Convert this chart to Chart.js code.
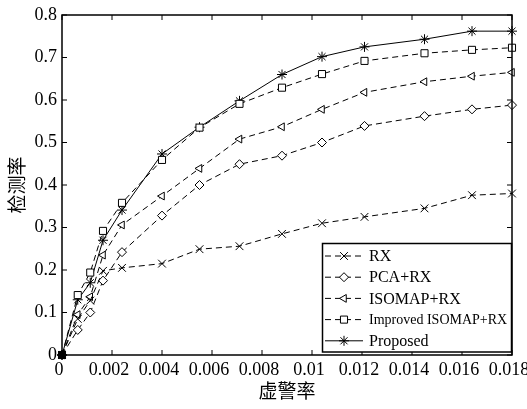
<!DOCTYPE html>
<html>
<head>
<meta charset="utf-8">
<script src="https://cdn.jsdelivr.net/npm/chart.js@4.4.0/dist/chart.umd.min.js"></script>
<style>
  html, body { margin: 0; padding: 0; background: #fff; }
  #wrap { width: 527px; height: 409px; }
</style>
</head>
<body>
<div id="wrap"><canvas id="rocChart" width="527" height="409"></canvas></div>
<script>
// false alarm rate (x) shared by all curves
const falseAlarm = [0, 0.00063, 0.00113, 0.00164, 0.0024, 0.004, 0.0055, 0.0071, 0.0088, 0.0104, 0.0121, 0.0145, 0.0164, 0.018];

const rxVals       = [0, 0.085, 0.128, 0.198, 0.205, 0.215, 0.249, 0.256, 0.285, 0.310, 0.325, 0.345, 0.376, 0.380];
const pcaVals      = [0, 0.059, 0.100, 0.175, 0.242, 0.328, 0.400, 0.449, 0.469, 0.500, 0.539, 0.562, 0.578, 0.588];
const isomapVals   = [0, 0.095, 0.137, 0.235, 0.306, 0.374, 0.439, 0.508, 0.537, 0.578, 0.618, 0.643, 0.656, 0.665];
const improvedVals = [0, 0.141, 0.194, 0.292, 0.358, 0.459, 0.535, 0.591, 0.629, 0.661, 0.692, 0.710, 0.718, 0.723];
const proposedVals = [0, 0.130, 0.170, 0.270, 0.341, 0.473, 0.536, 0.598, 0.660, 0.702, 0.725, 0.743, 0.762, 0.762];

const seriesNames = ["RX", "PCA+RX", "ISOMAP+RX", "Improved ISOMAP+RX", "Proposed"];
const xTickLabels = ["0", "0.002", "0.004", "0.006", "0.008", "0.01", "0.012", "0.014", "0.016", "0.018"];
const yTickLabels = ["0", "0.1", "0.2", "0.3", "0.4", "0.5", "0.6", "0.7", "0.8"];

const serif = "'Liberation Serif', 'DejaVu Serif', serif";
const cjk = "'Noto Sans CJK SC', sans-serif";

function toPoints(vals) {
  return vals.map((v, i) => ({ x: falseAlarm[i], y: v }));
}

function makeSet(label, vals, style, radius, rotation, dashed) {
  return {
    label: label,
    data: toPoints(vals),
    borderColor: '#000',
    borderWidth: 1,
    borderDash: dashed ? [6, 4] : [],
    pointStyle: style,
    pointRadius: radius,
    pointRotation: rotation,
    pointBorderColor: '#000',
    pointBorderWidth: 1,
    pointBackgroundColor: ctx => ctx.dataIndex === 0 ? '#000' : '#fff',
    tension: 0,
    fill: false,
    clip: 6
  };
}

const datasets = [
  makeSet(seriesNames[0], rxVals, 'crossRot', 5.5, 0, true),
  makeSet(seriesNames[1], pcaVals, 'rectRot', 4.5, 0, true),
  makeSet(seriesNames[2], isomapVals, 'triangle', 4.5, -90, true),
  makeSet(seriesNames[3], improvedVals, 'rect', 5, 0, true),
  makeSet(seriesNames[4], proposedVals, 'star', 5, 0, false)
];

// frame with inward ticks on all four sides
const framePlugin = {
  id: 'frame',
  afterDraw(chart) {
    const { ctx, chartArea: a, scales } = chart;
    ctx.save();
    ctx.strokeStyle = '#000';
    ctx.lineWidth = 1.5;
    ctx.strokeRect(a.left, a.top, a.right - a.left, a.bottom - a.top);
    ctx.lineWidth = 1;
    ctx.beginPath();
    scales.x.ticks.forEach(t => {
      const px = scales.x.getPixelForValue(t.value);
      ctx.moveTo(px, a.bottom); ctx.lineTo(px, a.bottom - 5);
      ctx.moveTo(px, a.top); ctx.lineTo(px, a.top + 5);
    });
    scales.y.ticks.forEach(t => {
      const py = scales.y.getPixelForValue(t.value);
      ctx.moveTo(a.left, py); ctx.lineTo(a.left + 5, py);
      ctx.moveTo(a.right, py); ctx.lineTo(a.right - 5, py);
    });
    ctx.stroke();
    ctx.restore();
  }
};

// legend box in the lower right corner of the plot
const legendPlugin = {
  id: 'boxLegend',
  afterDraw(chart) {
    const { ctx, chartArea: a } = chart;
    const boxL = 322.5, boxR = a.right - 0.5, boxT = 243.5, boxB = a.bottom - 3;
    ctx.save();
    ctx.fillStyle = '#fff';
    ctx.fillRect(boxL, boxT, boxR - boxL, boxB - boxT);
    ctx.strokeStyle = '#000';
    ctx.lineWidth = 1.5;
    ctx.strokeRect(boxL, boxT, boxR - boxL, boxB - boxT);

    chart.data.datasets.forEach((ds, i) => {
      const y = 256 + i * 21.2;
      ctx.strokeStyle = '#000';
      ctx.lineWidth = 1;
      ctx.setLineDash(ds.borderDash);
      ctx.beginPath();
      ctx.moveTo(325, y);
      ctx.lineTo(363, y);
      ctx.stroke();
      ctx.setLineDash([]);
      ctx.fillStyle = '#fff';
      Chart.helpers.drawPoint(ctx, {
        pointStyle: ds.pointStyle,
        radius: ds.pointRadius,
        rotation: ds.pointRotation,
        borderWidth: 1
      }, 344, y);
      ctx.fillStyle = '#000';
      ctx.font = (i === 3 ? '14px ' : '16px ') + serif;
      ctx.textBaseline = 'middle';
      ctx.textAlign = 'left';
      ctx.fillText(ds.label, 369, y + 1);
    });
    ctx.restore();
  }
};

new Chart(document.getElementById('rocChart'), {
  type: 'line',
  data: { datasets: datasets },
  options: {
    responsive: false,
    animation: false,
    devicePixelRatio: 1,
    layout: { padding: { left: 0, right: 15, top: 15, bottom: 0 } },
    plugins: { legend: { display: false }, tooltip: { enabled: false } },
    scales: {
      x: {
        type: 'linear',
        min: 0,
        max: 0.018,
        grid: { display: false, drawTicks: false },
        border: { display: false },
        ticks: {
          stepSize: 0.002,
          padding: 4,
          labelOffset: -3,
          color: '#000',
          font: { family: serif, size: 18 },
          maxRotation: 0,
          autoSkip: false,
          callback: (v, i) => xTickLabels[i]
        },
        title: {
          display: true,
          text: '虚警率',
          color: '#000',
          font: { family: cjk, size: 19 },
          padding: { top: 0, bottom: 7 }
        },
        afterFit(scale) { scale.height = 54; scale.paddingRight = 0; scale.paddingLeft = 0; }
      },
      y: {
        type: 'linear',
        min: 0,
        max: 0.8,
        grid: { display: false, drawTicks: false },
        border: { display: false },
        ticks: {
          stepSize: 0.1,
          padding: 5,
          color: '#000',
          font: { family: serif, size: 18 },
          autoSkip: false,
          callback: (v, i) => yTickLabels[i]
        },
        title: {
          display: true,
          text: '检测率',
          color: '#000',
          font: { family: cjk, size: 19 },
          padding: { top: 5, bottom: 0 }
        },
        afterFit(scale) { scale.width = 62; scale.paddingTop = 0; scale.paddingBottom = 0; }
      }
    }
  },
  plugins: [framePlugin, legendPlugin]
});
</script>
</body>
</html>
